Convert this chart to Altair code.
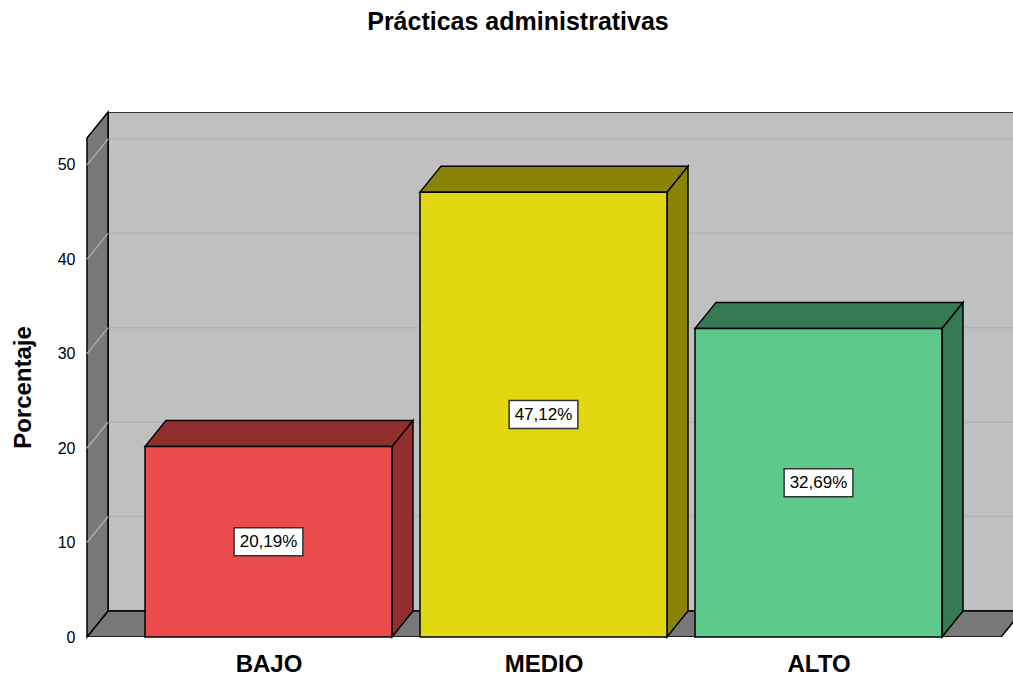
import altair as alt
import pandas as pd

# ---- data ----
categories = ["BAJO", "MEDIO", "ALTO"]
percent = [20.19, 47.12, 32.69]
value_labels = ["20,19%", "47,12%", "32,69%"]
front_colors = ["#EB4B4B", "#E3D70F", "#5DC98A"]
side_colors = ["#912E2E", "#8A8308", "#357A52"]
y_ticks = [0, 10, 20, 30, 40, 50]

# ---- geometry (in data units) ----
POS = [1, 2, 3]
BAR_W = 0.898
DX = 0.0764          # depth offset along x
DY = 2.754           # depth offset along y
X_MIN, X_MAX = 0.34, 3.7073
Y_MAX = 55.61
FRONT_TOP = Y_MAX - DY
FLOOR_RIGHT = 3.664
WALL_RIGHT = FLOOR_RIGHT + DX
BOX_W, BOX_H = 0.25, 2.97

FONT = "Liberation Sans"
xs = alt.Scale(domain=[X_MIN, X_MAX], nice=False, zero=False)
ys = alt.Scale(domain=[0, Y_MAX], nice=False, zero=False)
label_expr = "{1: '%s', 2: '%s', 3: '%s'}[datum.value]" % tuple(categories)
xaxis = alt.Axis(values=POS, labelExpr=label_expr, title=None, grid=False, domain=False,
                 ticks=False, labelFontSize=24, labelFontWeight="bold", labelFont=FONT,
                 labelColor="black", labelPadding=15)
yaxis = alt.Axis(values=y_ticks, title="Porcentaje", grid=False, domain=False, ticks=False,
                 labelFontSize=16, labelFont=FONT, labelColor="black", labelPadding=12,
                 titleFontSize=24, titleFont=FONT, titleFontWeight="bold", titleColor="black",
                 titleX=-57, titleY=275, titleAngle=-90, titleAlign="center",
                 titleBaseline="alphabetic")


def X(f):
    return alt.X(f, type="quantitative", scale=xs, axis=xaxis)


def Y(f):
    return alt.Y(f, type="quantitative", scale=ys, axis=yaxis)


# back wall
back = pd.DataFrame({"x": [X_MIN + DX], "x2": [WALL_RIGHT], "y": [DY], "y2": [Y_MAX]})
back_l = alt.Chart(back).mark_rect(fill="#C0C0C0", stroke="black", strokeWidth=1.5, clip=True).encode(
    x=X("x"), x2="x2", y=Y("y"), y2="y2")

# back gridlines
grid = pd.DataFrame({"x": X_MIN + DX, "x2": WALL_RIGHT, "y": [v + DY for v in y_ticks[1:]]})
grid_l = alt.Chart(grid).mark_rule(color="#B3B3B3", strokeWidth=1.5, clip=True).encode(
    x=X("x"), x2="x2", y=Y("y"))

# floor (parallelogram)
floor = pd.DataFrame({"x": [X_MIN, X_MIN + DX, FLOOR_RIGHT, WALL_RIGHT],
                      "y": [0, 0, 0, DY], "y2": [0, DY, DY, DY]})
floor_l = alt.Chart(floor).mark_area(fill="#787878", stroke="black", strokeWidth=1.5, clip=True,
                                     opacity=1).encode(x=X("x"), y=Y("y"), y2="y2")

# left wall
lwall = pd.DataFrame({"x": [X_MIN, X_MIN + DX], "y": [0, DY], "y2": [FRONT_TOP, Y_MAX]})
lwall_l = alt.Chart(lwall).mark_area(fill="#787878", stroke="black", strokeWidth=1.5,
                                     opacity=1).encode(x=X("x"), y=Y("y"), y2="y2")

# left wall diagonals
diag = pd.DataFrame({"x": X_MIN, "x2": X_MIN + DX, "y": y_ticks[1:],
                     "y2": [v + DY for v in y_ticks[1:]]})
diag_l = alt.Chart(diag).mark_rule(color="#A8A8A8", strokeWidth=1.5).encode(
    x=X("x"), x2="x2", y=Y("y"), y2="y2")

# bar faces
side_rows, top_rows, front_rows, box_rows = [], [], [], []
for i, (c, p) in enumerate(zip(categories, percent)):
    L = POS[i] - BAR_W / 2
    R = POS[i] + BAR_W / 2
    sid = side_colors[i]
    side_rows += [dict(sid=c, fill=sid, x=R, y=0, y2=p),
                  dict(sid=c, fill=sid, x=R + DX, y=DY, y2=p + DY)]
    top_rows += [dict(sid=c, fill=sid, x=L, y=p, y2=p),
                 dict(sid=c, fill=sid, x=L + DX, y=p, y2=p + DY),
                 dict(sid=c, fill=sid, x=R, y=p, y2=p + DY),
                 dict(sid=c, fill=sid, x=R + DX, y=p + DY, y2=p + DY)]
    front_rows.append(dict(cat=c, fill=front_colors[i], x=L, x2=R, y=0, y2=p))
    box_rows.append(dict(cat=c, label=value_labels[i], xc=POS[i], yc=p / 2,
                         x=POS[i] - BOX_W / 2, x2=POS[i] + BOX_W / 2,
                         y=p / 2 - BOX_H / 2, y2=p / 2 + BOX_H / 2))

side_df = pd.DataFrame(side_rows)
top_df = pd.DataFrame(top_rows)
front_df = pd.DataFrame(front_rows)
box_df = pd.DataFrame(box_rows)

side_l = alt.Chart(side_df).mark_area(stroke="black", strokeWidth=1.5, opacity=1).encode(
    x=X("x"), y=Y("y"), y2="y2", fill=alt.Fill("fill:N", scale=None), detail="sid:N")
top_l = alt.Chart(top_df).mark_area(stroke="black", strokeWidth=1.5, opacity=1).encode(
    x=X("x"), y=Y("y"), y2="y2", fill=alt.Fill("fill:N", scale=None), detail="sid:N")
front_l = alt.Chart(front_df).mark_rect(stroke="black", strokeWidth=1.5).encode(
    x=X("x"), x2="x2", y=Y("y"), y2="y2", fill=alt.Fill("fill:N", scale=None))
box_l = alt.Chart(box_df).mark_rect(fill="white", stroke="#333333", strokeWidth=1.5).encode(
    x=X("x"), x2="x2", y=Y("y"), y2="y2")
text_l = alt.Chart(box_df).mark_text(fontSize=17, font=FONT, color="black",
                                     baseline="middle", align="center").encode(
    x=X("xc"), y=Y("yc"), text="label:N")

chart = alt.layer(back_l, grid_l, floor_l, lwall_l, diag_l, side_l, top_l, front_l, box_l,
                  text_l).properties(
    width=926, height=525,
    title=alt.TitleParams("Prácticas administrativas", fontSize=25, font=FONT,
                          fontWeight="bold", color="black", anchor="middle", dx=-32,
                          offset=54, baseline="alphabetic"),
    autosize=alt.AutoSizeParams(type="none"),
    padding={"left": 87, "top": 112, "right": 0, "bottom": 38},
    background="white",
).configure_view(stroke=None)

chart.save("out.html", embed_options={"renderer": "svg", "actions": False})
